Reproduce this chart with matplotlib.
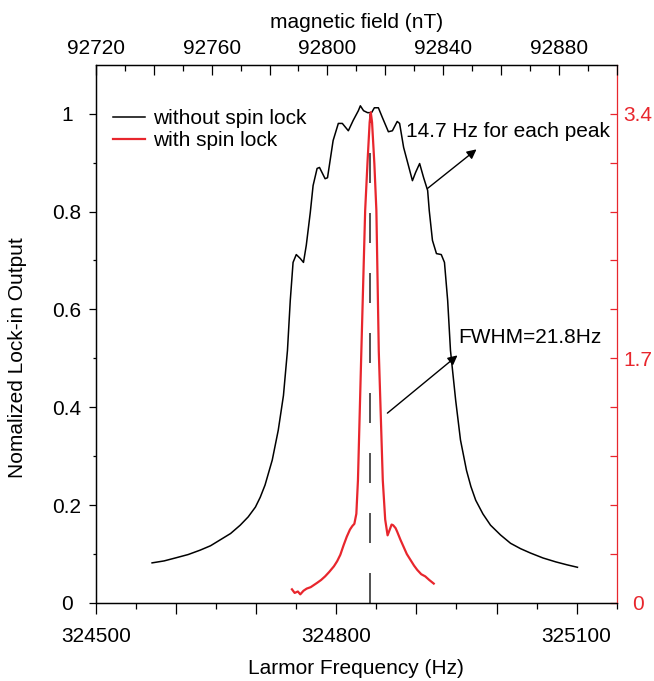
import numpy as np
import matplotlib
matplotlib.use("Agg")
import matplotlib.pyplot as plt

plt.rcParams["font.family"] = ["Liberation Sans", "DejaVu Sans"]
plt.rcParams["font.size"] = 15

RED = "#e8262d"

# without spin lock (left axis, normalized)
black_freq = [
    324570, 324585, 324599, 324615, 324630, 324643, 324655, 324668, 324680,
    324690, 324699, 324705, 324711, 324720, 324727.5,
    324734, 324739, 324742.5, 324746, 324750, 324755, 324759, 324762.5,
    324767.5, 324771, 324776, 324779, 324786, 324789, 324796, 324802.5,
    324807.5, 324815, 324821, 324827.5, 324830, 324834, 324839, 324844,
    324847.5, 324852.5, 324857.5, 324865, 324870, 324876, 324879, 324884,
    324890, 324895, 324899, 324904, 324909, 324914, 324916, 324920, 324925,
    324931, 324935, 324939, 324942.5, 324949, 324955, 324962.5, 324968,
    324974, 324983, 324992.5, 325005, 325017.5, 325030, 325042.5, 325058,
    325074, 325088, 325101,
]
black_val = [
    0.082, 0.086, 0.092, 0.099, 0.108, 0.117, 0.129, 0.142, 0.159,
    0.176, 0.196, 0.216, 0.241, 0.292, 0.353,
    0.424, 0.516, 0.618, 0.696, 0.712, 0.704, 0.696, 0.731,
    0.798, 0.853, 0.888, 0.890, 0.867, 0.869, 0.945, 0.980,
    0.980, 0.965, 0.986, 1.006, 1.016, 1.006, 1.002, 1.002,
    1.012, 1.012, 0.992, 0.963, 0.965, 0.984, 0.980, 0.931,
    0.894, 0.863, 0.880, 0.898, 0.869, 0.843, 0.802, 0.741, 0.714,
    0.712, 0.696, 0.618, 0.516, 0.414, 0.333, 0.271, 0.238,
    0.210, 0.182, 0.159, 0.139, 0.122, 0.111, 0.102, 0.092,
    0.084, 0.078, 0.073,
]

# with spin lock (right axis)
red_freq = [
    324744.6, 324748, 324752, 324755, 324759, 324763, 324768, 324772, 324776,
    324781, 324786, 324791, 324797, 324801, 324805, 324809, 324813, 324817,
    324820, 324822.5, 324825, 324827, 324831, 324836, 324839, 324841.6,
    324843, 324844.6, 324847.5, 324850, 324853, 324858, 324861, 324864,
    324866.7, 324869, 324871, 324874, 324876, 324880, 324884, 324888,
    324892.5, 324897, 324901, 324906, 324911, 324916, 324921.6,
]
red_val = [
    0.095, 0.07, 0.08, 0.06, 0.085, 0.10, 0.11, 0.125, 0.14,
    0.16, 0.185, 0.215, 0.255, 0.29, 0.335, 0.40, 0.46, 0.51,
    0.535, 0.55, 0.62, 0.853, 1.70, 2.727, 3.07, 3.34,
    3.41, 3.34, 3.05, 2.727, 1.75, 0.853, 0.58, 0.47,
    0.51, 0.545, 0.54, 0.52, 0.495, 0.44, 0.39, 0.34,
    0.30, 0.26, 0.23, 0.20, 0.185, 0.16, 0.135,
]

center_freq = 324842.5

freq_ticks = [324500, 324600, 324700, 324800, 324900, 325000, 325100]
freq_labels = ["324500", "", "", "324800", "", "", "325100"]
field_ticks = [92720, 92740, 92760, 92780, 92800, 92820, 92840, 92860, 92880, 92900]
field_labels = ["92720", "", "92760", "", "92800", "", "92840", "", "92880", ""]
left_ticks = [0, 0.2, 0.4, 0.6, 0.8, 1.0]
left_labels = ["0", "0.2", "0.4", "0.6", "0.8", "1"]
right_ticks = [0, 0.34, 0.68, 1.02, 1.36, 1.7, 2.04, 2.38, 2.72, 3.06, 3.4]
right_labels = ["0", "", "", "", "", "1.7", "", "", "", "", "3.4"]

fig = plt.figure(figsize=(6.54, 6.81), dpi=100)
W, H = 654, 681
ax = fig.add_axes([96 / W, 1 - 603 / H, (616.7 - 96) / W, (603 - 64.7) / H])
ax2 = ax.twinx()
ax3 = ax.twiny()

(l1,) = ax.plot(black_freq, black_val, color="black", lw=1.1, label="without spin lock")
(l2,) = ax2.plot(red_freq, red_val, color=RED, lw=1.6, label="with spin lock")
ax.plot([center_freq, center_freq], [0, 1.0], color="#333333", lw=1.2,
        dashes=(18, 18), zorder=1)

ax.set_xlim(324500, 325150)
ax.set_ylim(0, 1.1)
ax2.set_ylim(0, 3.74)
ax3.set_xlim(92720, 92900)

# bottom axis
ax.set_xticks(freq_ticks)
ax.set_xticklabels(freq_labels)
ax.set_xticks(np.arange(324550, 325151, 100), minor=True)
ax.tick_params(axis="x", which="major", direction="out", length=8, width=0.9, pad=9)
ax.tick_params(axis="x", which="minor", direction="out", length=4, width=0.9)
ax.set_xlabel("Larmor Frequency (Hz)", labelpad=10)

# left axis
ax.set_yticks(left_ticks)
ax.set_yticklabels(left_labels)
ax.set_yticks([0.1, 0.3, 0.5, 0.7, 0.9], minor=True)
ax.tick_params(axis="y", which="major", direction="out", length=5, width=0.9, pad=16)
ax.tick_params(axis="y", which="minor", direction="out", length=2.5, width=0.9)
for t in ax.get_yticklabels():
    t.set_horizontalalignment("center")
ax.set_ylabel("Nomalized Lock-in Output")
ax.yaxis.set_label_coords(-0.133, 0.455)

# top axis
ax3.set_xticks(field_ticks)
ax3.set_xticklabels(field_labels)
ax3.set_xticks(np.arange(92730, 92900, 20), minor=True)
ax3.tick_params(axis="x", which="major", direction="in", length=7, width=0.9, pad=5)
ax3.tick_params(axis="x", which="minor", direction="in", length=4, width=0.9)
ax3.set_xlabel("magnetic field (nT)", labelpad=8)

# right axis
ax2.set_yticks(right_ticks)
ax2.set_yticklabels(right_labels)
ax2.tick_params(axis="y", direction="in", length=5, width=0.9, pad=15,
                colors=RED)
for t in ax2.get_yticklabels():
    t.set_horizontalalignment("center")

for a in (ax, ax2, ax3):
    for s in a.spines.values():
        s.set_linewidth(0.9)
ax.spines["right"].set_visible(False)
ax3.spines["right"].set_visible(False)
ax2.spines["left"].set_visible(False)
ax2.spines["top"].set_visible(False)
ax2.spines["bottom"].set_visible(False)
ax2.spines["right"].set_color(RED)

ax2.legend(handles=[l1, l2], loc="upper left", bbox_to_anchor=(0.0327, 0.917),
           frameon=False, borderaxespad=0, borderpad=0, handlelength=1.55,
           handletextpad=0.35, labelspacing=0.12)

ax.text(324887.5, 0.963, "14.7 Hz for each peak", ha="left", va="center")
ax.annotate("", xy=(324975, 0.927), xytext=(324913.75, 0.847),
            arrowprops=dict(arrowstyle="-|>", color="black", lw=1,
                            mutation_scale=14, shrinkA=0, shrinkB=0))
ax.text(324952.5, 0.543, "FWHM=21.8Hz", ha="left", va="center")
ax.annotate("", xy=(324951.25, 0.506), xytext=(324863.75, 0.388),
            arrowprops=dict(arrowstyle="-|>", color="black", lw=1,
                            mutation_scale=14, shrinkA=0, shrinkB=0))

fig.savefig("out.png", dpi=100)
